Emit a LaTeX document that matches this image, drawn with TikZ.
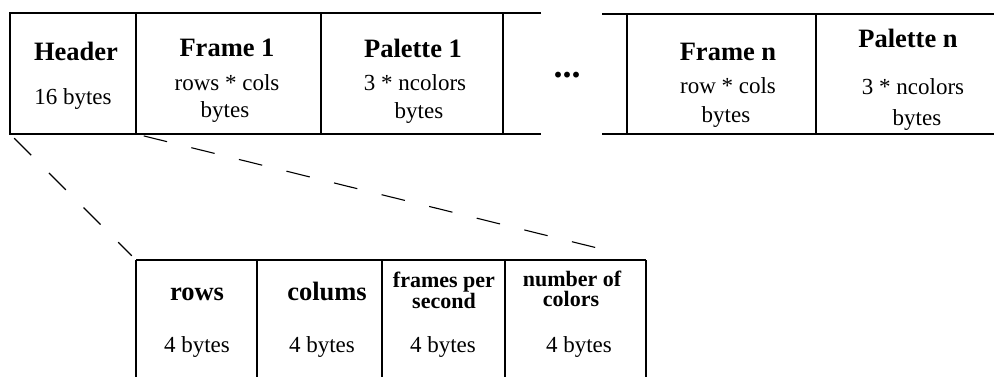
\documentclass[tikz,border=0pt]{standalone}
\usepackage{fontspec}
\setmainfont{Liberation Serif}
\usetikzlibrary{positioning}

\tikzset{
  rule/.style={line width=2pt},
  zoomline/.style={line width=1.1pt,dash pattern=on 24pt off 25pt},
  title/.style={anchor=base,inner sep=0pt,font=\fontsize{26.5}{30}\selectfont\bfseries},
  size/.style={anchor=base,inner sep=0pt,font=\fontsize{23}{26}\selectfont},
  field/.style={anchor=base,inner sep=0pt,font=\fontsize{22}{24}\selectfont\bfseries},
}

\begin{document}
\begin{tikzpicture}[x=1pt,y=-1pt]
\useasboundingbox (0,0) rectangle (994,376);
% corners
\coordinate (hdrBL) at (10,134);
\coordinate (hdrBR) at (136,134);
\coordinate (subTL) at (136,260);
\coordinate (subTR) at (646,260);
% file, first part
\draw[rule] (541,13) -- (10,13) -- (hdrBL) -- (541,134);
\foreach \x in {136,321,503}
  \draw[rule] (\x,13) -- (\x,134);
% file, last part
\draw[rule] (994,14) -- (602,14);
\draw[rule] (602,134) -- (994,134);
\foreach \x in {627,816}
  \draw[rule] (\x,14) -- (\x,134);
% header fields
\draw[rule] (subTL) -- (subTR);
\foreach \x in {136,257,382,505,646}
  \draw[rule] (\x,260) -- (\x,377);
% zoom lines
\draw[zoomline,shorten <=6pt,shorten >=6pt] (hdrBL) -- (subTL);
\draw[zoomline,shorten <=8pt,shorten >=46pt] (hdrBR) -- (subTR);
% texts
\node[title] (hdr) at (76,60) {Header};
\node[size] (hdrsz) at (73,104) {16 bytes};
\node[title] (frm1) at (227,56) {Frame 1};
\node[size] (frm1a) at (227,90) {rows * cols};
\node[size] (frm1b) at (225,117) {bytes};
\node[title] (pal1) at (413,57) {Palette 1};
\node[size] (pal1a) at (415,90) {3 * ncolors};
\node[size] (pal1b) at (419,118) {bytes};
\node[title,font=\fontsize{36}{40}\selectfont\bfseries] (more) at (567,77) {...};
\node[title] (frmn) at (728,60) {Frame n};
\node[size] (frmna) at (728,93) {row * cols};
\node[size] (frmnb) at (726,122) {bytes};
\node[title] (paln) at (908,47) {Palette n};
\node[size] (palna) at (913,94) {3 * ncolors};
\node[size] (palnb) at (917,125) {bytes};
% header fields texts
\node[title] (rows) at (197,300) {rows};
\node[title] (cols) at (327,300) {colums};
\node[field] (fps) at (444,287) {frames per};
\node[field] (fpsb) at (444,308) {second};
\node[field] (ncol) at (572,286) {number of};
\node[field] (ncolb) at (571,306) {colors};
\node[size] (rowssz) at (197,352) {4 bytes};
\node[size] (colssz) at (322,352) {4 bytes};
\node[size] (fpssz) at (443,352) {4 bytes};
\node[size] (ncolsz) at (579,352) {4 bytes};
\end{tikzpicture}
\end{document}
